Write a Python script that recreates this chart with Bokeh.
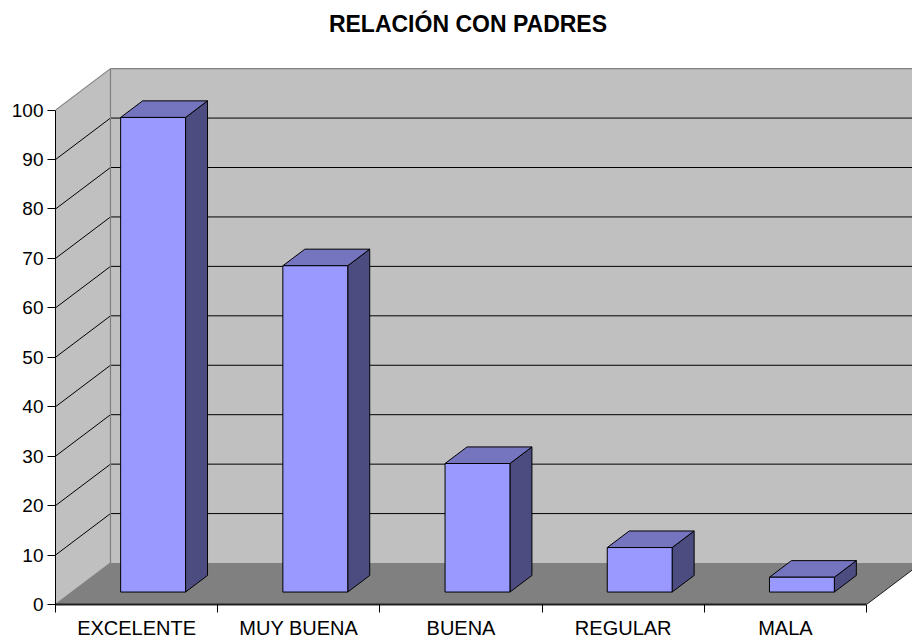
from bokeh.plotting import figure
from bokeh.models import Range1d, FixedTicker, Label
from bokeh.embed import file_html
from bokeh.resources import INLINE

# ---- data ----
categories = ["EXCELENTE", "MUY BUENA", "BUENA", "REGULAR", "MALA"]
values = [96, 66, 26, 9, 3]
y_ticks = [0, 10, 20, 30, 40, 50, 60, 70, 80, 90, 100]
title_text = "RELACIÓN CON PADRES"

# ---- 3D geometry (in data units) ----
N = len(categories)
YMAX = 100
DX, DY = 0.339, 8.39        # full depth of the chart box
F1, F2 = 0.30, 0.70         # bar front / back depth fraction
BW = 0.40                   # bar width

FONT = "Liberation Sans"

p = figure(width=912, height=642,
           x_range=Range1d(0, 5.2836), y_range=Range1d(0, 122.17),
           output_backend="svg", toolbar_location=None, title=None,
           min_border_left=55, min_border_right=0, min_border_top=0,
           min_border_bottom=38)
p.xgrid.visible = False
p.ygrid.visible = False
p.outline_line_color = None
p.background_fill_color = "white"

# walls
WALL = "#C0C0C0"
FLOOR = "#808080"
p.patch([0, DX, DX, 0], [0, DY, YMAX + DY, YMAX], fill_color=WALL, line_color=None)
p.patch([DX, N + DX, N + DX, DX], [DY, DY, YMAX + DY, YMAX + DY], fill_color=WALL, line_color=None)
p.patch([0, N, N + DX, DX], [0, 0, DY, DY], fill_color=FLOOR, line_color=None)

# gridlines
grid_vals = [v for v in y_ticks if 0 < v < YMAX]
p.multi_line([[DX, N + DX] for v in grid_vals], [[v + DY, v + DY] for v in grid_vals],
             line_color="black", line_width=1)
p.multi_line([[0, DX] for v in grid_vals], [[v, v + DY] for v in grid_vals],
             line_color="black", line_width=1)

# wall edges
p.multi_line([[DX, DX], [DX, N + DX], [0, DX], [0, DX]],
             [[DY, YMAX + DY], [YMAX + DY, YMAX + DY], [YMAX, YMAX + DY], [0, DY]],
             line_color="#808080", line_width=1.2)
p.line([N, N + DX], [0, DY], line_color="#202020", line_width=1)

# bars
fx, fy, tx, ty, sx, sy = [], [], [], [], [], []
ddx, ddy = (F2 - F1) * DX, (F2 - F1) * DY
for i, v in enumerate(values):
    x0 = i + 0.5 - BW / 2 + F1 * DX
    x1 = x0 + BW
    yb = F1 * DY
    yt = yb + v
    fx.append([x0, x1, x1, x0]); fy.append([yb, yb, yt, yt])
    tx.append([x0, x1, x1 + ddx, x0 + ddx]); ty.append([yt, yt, yt + ddy, yt + ddy])
    sx.append([x1, x1 + ddx, x1 + ddx, x1]); sy.append([yb, yb + ddy, yt + ddy, yt])
p.patches(sx, sy, fill_color="#4C4C80", line_color="black", line_width=1)
p.patches(tx, ty, fill_color="#7474BF", line_color="black", line_width=1)
p.patches(fx, fy, fill_color="#9999FF", line_color="black", line_width=1)

# axes
ya = p.yaxis[0]
ya.ticker = FixedTicker(ticks=y_ticks, minor_ticks=[])
ya.bounds = (0, YMAX)
ya.axis_line_color = "black"
ya.major_tick_out = 8
ya.major_tick_in = 0
ya.minor_tick_line_color = None
ya.major_label_standoff = 4
ya.major_label_text_font = FONT
ya.major_label_text_font_size = "19px"
ya.major_label_text_color = "black"

xa = p.xaxis[0]
xa.ticker = FixedTicker(ticks=[i + 0.5 for i in range(N)], minor_ticks=list(range(N + 1)))
xa.major_label_overrides = {i + 0.5: c for i, c in enumerate(categories)}
xa.bounds = (0, N)
xa.axis_line_color = "#202020"
xa.axis_line_width = 2
xa.major_tick_out = 0
xa.major_tick_in = 0
xa.minor_tick_out = 8
xa.minor_tick_in = 0
xa.minor_tick_line_color = "black"
xa.major_label_standoff = 4
xa.major_label_text_font = FONT
xa.major_label_text_font_size = "20px"
xa.major_label_text_color = "black"

p.add_layout(Label(x=2.543, y=117.5, text=title_text, text_align="center",
                   text_baseline="alphabetic", text_font=FONT,
                   text_font_size="23px", text_font_style="bold", text_color="black"))

open("out.html", "w").write(file_html(p, INLINE))
